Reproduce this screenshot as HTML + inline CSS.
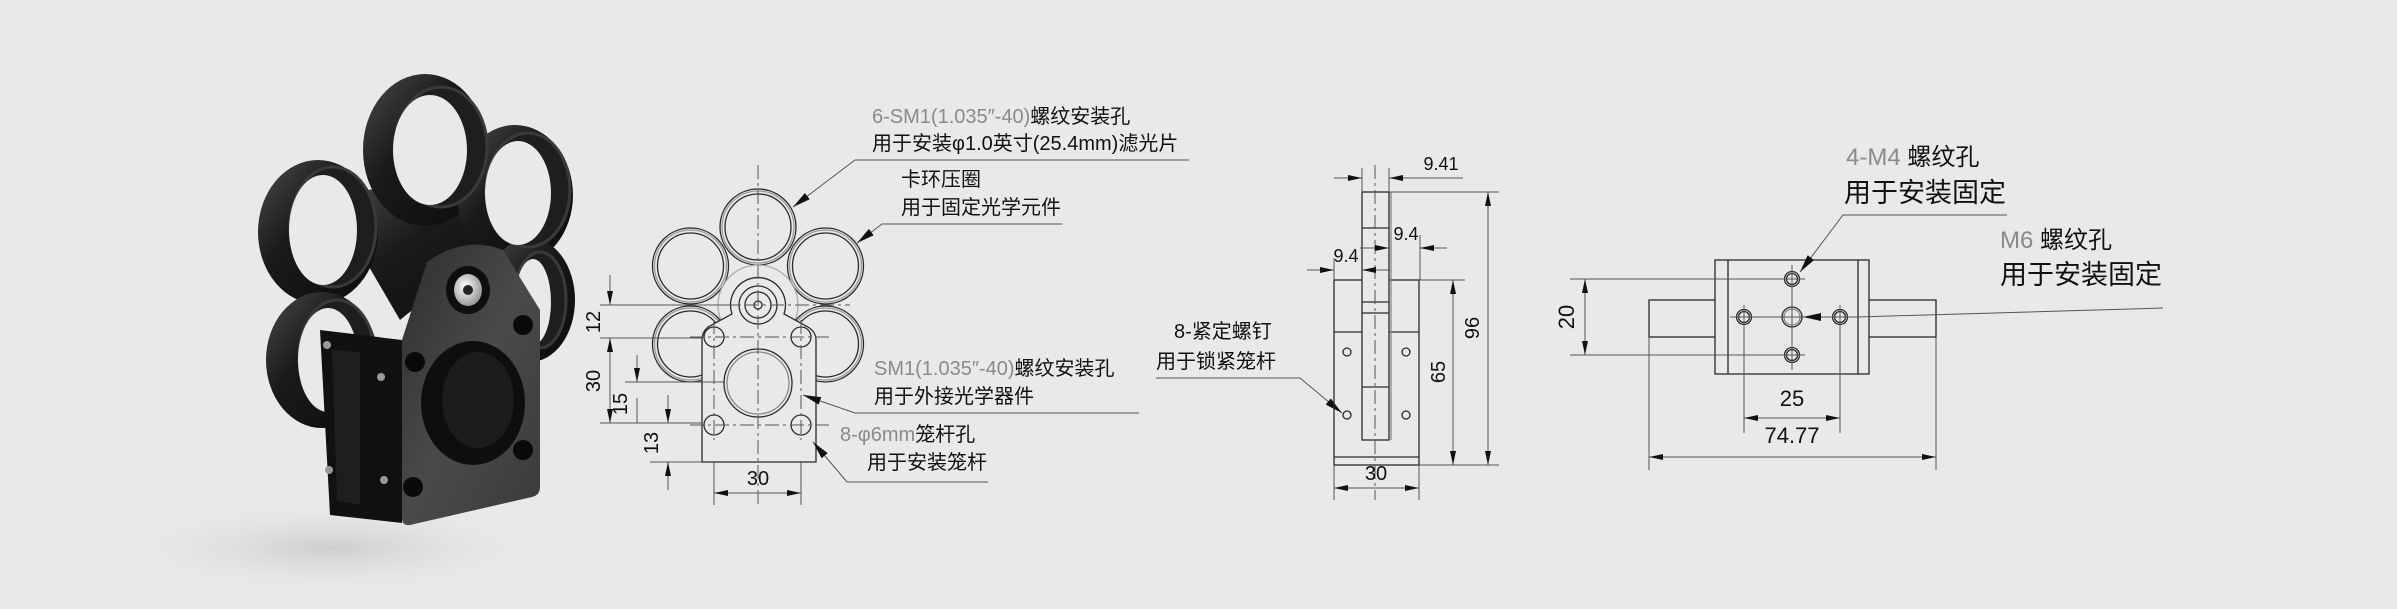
<!DOCTYPE html>
<html><head><meta charset="utf-8"><style>
html,body{margin:0;padding:0;background:#e9e9e9;width:2397px;height:609px;overflow:hidden;}
svg{display:block;}
.t{font-family:"Liberation Sans","Noto Sans CJK SC",sans-serif;fill:#111;}
.g{fill:#8a8a8a;}
.n{font-family:"Liberation Sans Narrow","Liberation Sans",sans-serif;fill:#111;font-size:20px;}
.l{stroke:#2a2a2a;stroke-width:1.3;fill:none;}
.th{stroke:#555;stroke-width:1;fill:none;}
.c{stroke:#555;stroke-width:1;fill:none;stroke-dasharray:14 4 3 4;}
</style></head><body>
<svg width="2397" height="609" viewBox="0 0 2397 609" xmlns="http://www.w3.org/2000/svg">
<defs>
<marker id="a" markerWidth="14" markerHeight="6" refX="14" refY="3" orient="auto-start-reverse" markerUnits="userSpaceOnUse"><path d="M0,0 L14,3 L0,6 Z" fill="#111"/></marker>
<marker id="b" markerWidth="18" markerHeight="8" refX="18" refY="4" orient="auto" markerUnits="userSpaceOnUse"><path d="M0,0 L18,4 L0,8 Z" fill="#111"/></marker>
<radialGradient id="sh" cx="0.5" cy="0.5" r="0.5"><stop offset="0" stop-color="#cdcdcd"/><stop offset="1" stop-color="#e9e9e9" stop-opacity="0"/></radialGradient>
<linearGradient id="ring" x1="0" y1="0" x2="1" y2="1"><stop offset="0" stop-color="#4a4a4a"/><stop offset="0.4" stop-color="#1a1a1a"/><stop offset="1" stop-color="#0c0c0c"/></linearGradient>
<linearGradient id="face" x1="0" y1="0" x2="1" y2="1"><stop offset="0" stop-color="#2e2e2e"/><stop offset="0.5" stop-color="#4a4a4a"/><stop offset="1" stop-color="#3a3a3a"/></linearGradient>
<radialGradient id="boss" cx="0.4" cy="0.4" r="0.6"><stop offset="0" stop-color="#fff"/><stop offset="1" stop-color="#999"/></radialGradient>
</defs>
<rect width="2397" height="609" fill="#e9e9e9"/>

<!-- ===== PHOTO ===== -->
<ellipse cx="330" cy="548" rx="230" ry="50" fill="url(#sh)"/>
<g fill="url(#ring)">
<path d="M330,200 Q420,170 510,200 L540,300 Q470,260 400,320 Z"/>
<ellipse cx="425" cy="150" rx="62" ry="76"/>
<ellipse cx="515" cy="195" rx="58" ry="70"/>
<ellipse cx="530" cy="300" rx="45" ry="62"/>
<ellipse cx="318" cy="232" rx="60" ry="72"/>
<ellipse cx="322" cy="360" rx="56" ry="68"/>
</g>
<g fill="#1e1e1e" stroke="#3a3a3a" stroke-width="3">
<ellipse cx="441" cy="147" rx="46" ry="60"/>
<ellipse cx="528" cy="190" rx="42" ry="57"/>
<ellipse cx="333" cy="227" rx="43" ry="60"/>
<ellipse cx="540" cy="300" rx="26" ry="48"/>
<ellipse cx="337" cy="357" rx="38" ry="57"/>
</g>
<g fill="#e9e9e9">
<ellipse cx="430" cy="150" rx="37" ry="55"/>
<ellipse cx="518" cy="193" rx="33" ry="52"/>
<ellipse cx="323" cy="230" rx="34" ry="55"/>
<ellipse cx="533" cy="302" rx="18" ry="43"/>
<ellipse cx="328" cy="360" rx="30" ry="52"/>
</g>
<!-- side face -->
<path d="M320,330 L402,340 L402,523 L330,515 Z" fill="#111"/>
<path d="M332,350 L360,352 L360,505 L337,500 Z" fill="#1e1e1e"/>
<circle cx="327" cy="345" r="4" fill="#999"/><circle cx="329" cy="470" r="4" fill="#999"/>
<circle cx="381" cy="377" r="4" fill="#999"/><circle cx="384" cy="480" r="4" fill="#999"/>
<!-- front face -->
<path d="M402,340 L427,262 Q465,235 503,250 L540,310 L540,487 Q540,495 532,497 L410,525 Q402,526 402,518 Z" fill="url(#face)"/>
<ellipse cx="473" cy="403" rx="52" ry="62" fill="#0e0e0e"/>
<ellipse cx="478" cy="400" rx="36" ry="48" fill="#1c1c1c"/>
<ellipse cx="468" cy="290" rx="22" ry="24" fill="#0e0e0e"/>
<ellipse cx="468" cy="290" rx="14" ry="16" fill="url(#boss)"/>
<circle cx="468" cy="290" r="5" fill="#222"/>
<g fill="#0a0a0a"><circle cx="415" cy="362" r="10"/><circle cx="523" cy="325" r="10"/><circle cx="413" cy="487" r="10"/><circle cx="523" cy="450" r="10"/></g>

<!-- ===== FRONT DRAWING ===== -->
<g class="l">
<circle cx="758" cy="227" r="38"/><circle cx="758" cy="227" r="36" stroke="#999"/><circle cx="758" cy="227" r="33"/>
<circle cx="825.5" cy="266" r="38"/><circle cx="825.5" cy="266" r="36" stroke="#999"/><circle cx="825.5" cy="266" r="33"/>
<circle cx="690.5" cy="266" r="38"/><circle cx="690.5" cy="266" r="36" stroke="#999"/><circle cx="690.5" cy="266" r="33"/>
<circle cx="825.5" cy="344" r="38"/><circle cx="825.5" cy="344" r="36" stroke="#999"/><circle cx="825.5" cy="344" r="33"/>
<circle cx="690.5" cy="344" r="38"/><circle cx="690.5" cy="344" r="36" stroke="#999"/><circle cx="690.5" cy="344" r="33"/>
<circle cx="758" cy="305" r="40" stroke="#aaa"/>
</g>
<path class="l" d="M702,462 L702,340 Q702,332 708,327 L732,314 A27.5,27.5 0 1 1 784,314 L808,327 Q816,332 816,340 L816,462 Z" style="fill:#e9e9e9"/>
<g class="l">
<circle cx="758" cy="305" r="19"/><circle cx="758" cy="305" r="13"/><circle cx="758" cy="305" r="4"/>
<circle cx="758" cy="383" r="34"/><circle cx="758" cy="383" r="31" stroke="#888"/>
<circle cx="714" cy="337" r="10"/><circle cx="801" cy="337" r="10"/>
<circle cx="714" cy="425" r="10"/><circle cx="801" cy="425" r="10"/>
</g>
<g class="c">
<line x1="758" y1="165" x2="758" y2="505"/>
<line x1="670" y1="305" x2="850" y2="305"/>
<line x1="690" y1="337" x2="830" y2="337"/>
<line x1="690" y1="425" x2="830" y2="425"/>
<line x1="714" y1="320" x2="714" y2="440"/><line x1="801" y1="320" x2="801" y2="440"/>
</g>
<g class="th">
<line x1="600" y1="305" x2="740" y2="305"/>
<line x1="600" y1="338" x2="702" y2="338"/>
<line x1="625" y1="382" x2="725" y2="382"/>
<line x1="600" y1="423" x2="702" y2="423"/>
<line x1="650" y1="462" x2="702" y2="462"/>
<line x1="610" y1="275" x2="610" y2="305" marker-end="url(#a)"/>
<line x1="610" y1="338" x2="610" y2="423" marker-start="url(#a)" marker-end="url(#a)"/>
<line x1="637" y1="355" x2="637" y2="382" marker-end="url(#a)"/>
<line x1="637" y1="423" x2="637" y2="398"/>
<line x1="668" y1="395" x2="668" y2="423" marker-end="url(#a)"/>
<line x1="668" y1="490" x2="668" y2="462" marker-end="url(#a)"/>
<line x1="714" y1="462" x2="714" y2="505"/><line x1="801" y1="462" x2="801" y2="505"/>
<line x1="714" y1="493" x2="801" y2="493" marker-start="url(#a)" marker-end="url(#a)"/>
</g>
<g class="n">
<text transform="translate(600,322) rotate(-90)" text-anchor="middle">12</text>
<text transform="translate(600,381) rotate(-90)" text-anchor="middle">30</text>
<text transform="translate(627,404) rotate(-90)" text-anchor="middle">15</text>
<text transform="translate(658,443) rotate(-90)" text-anchor="middle">13</text>
<text x="758" y="485" text-anchor="middle">30</text>
</g>
<g class="th">
<polyline points="1189,160 855,160 793,207" marker-end="url(#b)"/>
<polyline points="1062,224 882,224 857,243" marker-end="url(#b)"/>
<polyline points="1139,413 855,413 803,395" marker-end="url(#b)"/>
<polyline points="988,482 847,482 813,442" marker-end="url(#b)"/>
<polyline points="1156,378 1300,378 1342,413" marker-end="url(#b)"/>
</g>
<g class="t" font-size="20">
<text x="872" y="123"><tspan class="g">6-SM1(1.035″-40)</tspan>螺纹安装孔</text>
<text x="872" y="150">用于安装φ1.0英寸(25.4mm)滤光片</text>
<text x="901" y="186">卡环压圈</text>
<text x="901" y="214">用于固定光学元件</text>
<text x="874" y="375"><tspan class="g">SM1(1.035″-40)</tspan>螺纹安装孔</text>
<text x="874" y="403">用于外接光学器件</text>
<text x="840" y="441"><tspan class="g">8-φ6mm</tspan>笼杆孔</text>
<text x="867" y="469">用于安装笼杆</text>
<text x="1174" y="338">8-紧定螺钉</text>
<text x="1156" y="368">用于锁紧笼杆</text>
</g>

<!-- ===== SIDE VIEW ===== -->
<g class="l">
<rect x="1334" y="280" width="85" height="185"/>
<line x1="1334" y1="332" x2="1419" y2="332"/>
<line x1="1334" y1="457" x2="1419" y2="457"/>
</g>
<rect x="1362" y="192" width="27" height="248" class="l" style="fill:#e9e9e9"/>
<g class="l">
<line x1="1391" y1="192" x2="1391" y2="440" stroke="#888"/>
<line x1="1362" y1="228" x2="1389" y2="228"/>
<line x1="1362" y1="302" x2="1389" y2="302"/>
<line x1="1362" y1="313" x2="1389" y2="313"/>
<line x1="1362" y1="387" x2="1389" y2="387"/>
<circle cx="1347" cy="352" r="4"/><circle cx="1347" cy="415" r="4"/>
<circle cx="1406" cy="352" r="4"/><circle cx="1406" cy="415" r="4"/>
</g>
<line class="c" x1="1375" y1="165" x2="1375" y2="500"/>
<g class="th">
<line x1="1362" y1="168" x2="1362" y2="192"/><line x1="1389" y1="168" x2="1389" y2="192"/>
<line x1="1334" y1="178" x2="1362" y2="178" marker-end="url(#a)"/>
<line x1="1463" y1="178" x2="1389" y2="178" marker-end="url(#a)"/>
<line x1="1420" y1="235" x2="1420" y2="280"/>
<line x1="1360" y1="248" x2="1389" y2="248" marker-end="url(#a)"/>
<line x1="1447" y1="248" x2="1420" y2="248" marker-end="url(#a)"/>
<line x1="1334" y1="258" x2="1334" y2="280"/>
<line x1="1307" y1="270" x2="1334" y2="270" marker-end="url(#a)"/>
<line x1="1390" y1="270" x2="1362" y2="270" marker-end="url(#a)"/>
<line x1="1389" y1="192" x2="1499" y2="192"/>
<line x1="1419" y1="280" x2="1465" y2="280"/>
<line x1="1419" y1="465" x2="1499" y2="465"/>
<line x1="1488" y1="192" x2="1488" y2="465" marker-start="url(#a)" marker-end="url(#a)"/>
<line x1="1453" y1="280" x2="1453" y2="465" marker-start="url(#a)" marker-end="url(#a)"/>
<line x1="1334" y1="465" x2="1334" y2="500"/><line x1="1419" y1="465" x2="1419" y2="500"/>
<line x1="1334" y1="488" x2="1419" y2="488" marker-start="url(#a)" marker-end="url(#a)"/>
</g>
<g class="n">
<text x="1441" y="170" text-anchor="middle" font-size="18">9.41</text>
<text x="1406" y="240" text-anchor="middle" font-size="18">9.4</text>
<text x="1346" y="262" text-anchor="middle" font-size="18">9.4</text>
<text transform="translate(1479,328) rotate(-90)" text-anchor="middle">96</text>
<text transform="translate(1445,372) rotate(-90)" text-anchor="middle">65</text>
<text x="1376" y="480" text-anchor="middle">30</text>
</g>

<!-- ===== RIGHT VIEW ===== -->
<rect x="1649" y="300" width="287" height="37" class="l"/>
<rect x="1715" y="260" width="154" height="114" class="l" style="fill:#e9e9e9"/>
<g class="l">
<line x1="1728" y1="260" x2="1728" y2="374"/><line x1="1858" y1="260" x2="1858" y2="374"/>
<circle cx="1792" cy="279" r="7.5"/><circle cx="1792" cy="279" r="5.5"/>
<circle cx="1792" cy="355" r="7.5"/><circle cx="1792" cy="355" r="5.5"/>
<circle cx="1744" cy="317" r="7.5"/><circle cx="1744" cy="317" r="5.5"/>
<circle cx="1840" cy="317" r="7.5"/><circle cx="1840" cy="317" r="5.5"/>
<circle cx="1792" cy="317" r="10"/><circle cx="1792" cy="317" r="8" stroke="#888"/>
</g>
<g class="th">
<line x1="1792" y1="265" x2="1792" y2="370"/>
<line x1="1730" y1="317" x2="1855" y2="317"/>
<line x1="1570" y1="279" x2="1805" y2="279"/>
<line x1="1570" y1="355" x2="1805" y2="355"/>
<line x1="1585" y1="279" x2="1585" y2="355" marker-start="url(#a)" marker-end="url(#a)"/>
<line x1="1744" y1="305" x2="1744" y2="433"/><line x1="1840" y1="305" x2="1840" y2="433"/>
<line x1="1744" y1="418" x2="1840" y2="418" marker-start="url(#a)" marker-end="url(#a)"/>
<line x1="1649" y1="337" x2="1649" y2="470"/><line x1="1936" y1="337" x2="1936" y2="470"/>
<line x1="1649" y1="457" x2="1936" y2="457" marker-start="url(#a)" marker-end="url(#a)"/>
<polyline points="2007,215 1843,215 1800,272" marker-end="url(#b)"/>
<polyline points="2163,308 1857,317 1803,317" marker-end="url(#b)"/>
</g>
<g class="n">
<text transform="translate(1574,317) rotate(-90)" text-anchor="middle" font-size="22">20</text>
<text x="1792" y="406" text-anchor="middle" font-size="22">25</text>
<text x="1792" y="443" text-anchor="middle" font-size="22">74.77</text>
</g>
<g class="t">
<text x="1846" y="165" font-size="24"><tspan class="g">4-M4 </tspan>螺纹孔</text>
<text x="1844" y="202" font-size="27">用于安装固定</text>
<text x="2000" y="248" font-size="24"><tspan class="g">M6 </tspan>螺纹孔</text>
<text x="2000" y="284" font-size="27">用于安装固定</text>
</g>
</svg>
</body></html>
